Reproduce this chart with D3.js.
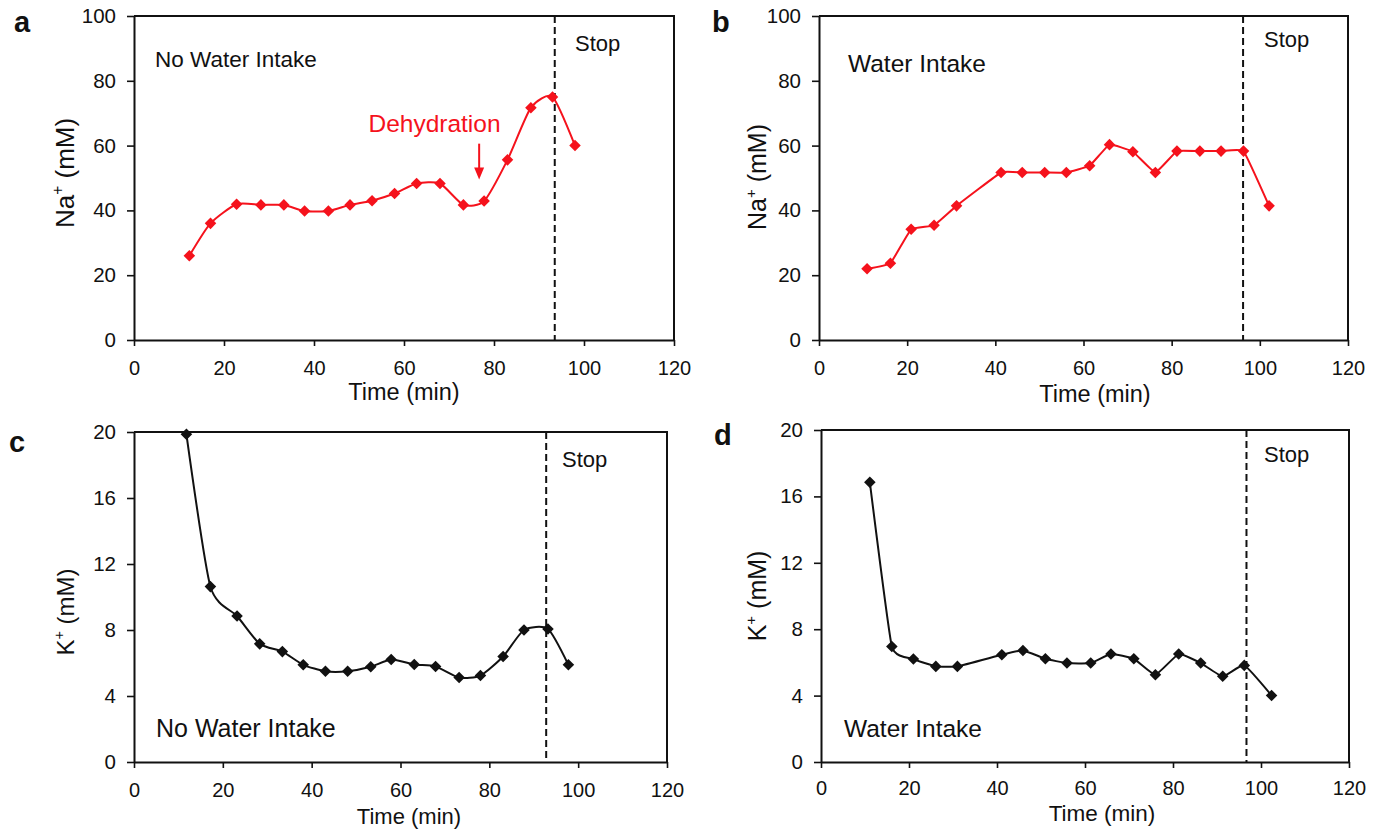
<!DOCTYPE html>
<html>
<head>
<meta charset="utf-8">
<script src="https://cdn.jsdelivr.net/npm/d3@7"></script>
<style>
  html, body { margin: 0; padding: 0; background: #fff; }
  svg { display: block; }
  text { font-family: Arial, 'Liberation Sans', sans-serif; fill: #111; }
</style>
</head>
<body>
<div id="chart"></div>
<script>
// ── Data ──
var timeTicks = [0, 20, 40, 60, 80, 100, 120];
var naTicks = [0, 20, 40, 60, 80, 100];
var kTicks = [0, 4, 8, 12, 16, 20];

// a: Na+, no water intake
var naTimeA = [12.3, 17.0, 22.8, 28.2, 33.3, 37.9, 43.2, 48.0, 52.9, 57.9, 62.8, 68.0, 73.2, 77.8, 83.0, 88.2, 93.0, 98.0];
var naValA  = [26.0, 36.0, 41.9, 41.7, 41.7, 39.8, 39.8, 41.7, 43.0, 45.2, 48.3, 48.3, 41.7, 42.9, 55.6, 71.7, 75.0, 60.0];
// b: Na+, water intake
var naTimeB = [10.9, 16.2, 20.9, 26.1, 31.2, 41.3, 46.1, 51.2, 56.1, 61.4, 65.9, 71.2, 76.3, 81.2, 86.4, 91.2, 96.3, 102.1];
var naValB  = [22.0, 23.7, 34.2, 35.4, 41.4, 51.7, 51.7, 51.7, 51.7, 53.8, 60.3, 58.1, 51.7, 58.3, 58.3, 58.3, 58.3, 41.4];
// c: K+, no water intake
var kTimeC = [11.8, 17.2, 23.2, 28.3, 33.4, 38.1, 43.1, 48.1, 53.3, 57.9, 63.1, 67.9, 73.2, 78.0, 83.1, 87.8, 93.2, 97.8];
var kValC  = [19.86, 10.63, 8.85, 7.16, 6.69, 5.89, 5.50, 5.50, 5.77, 6.21, 5.91, 5.79, 5.12, 5.24, 6.39, 8.00, 8.06, 5.89];
// d: K+, water intake
var kTimeD = [11.1, 16.1, 21.0, 26.1, 31.0, 41.1, 45.9, 51.0, 55.9, 61.3, 65.9, 71.1, 76.0, 81.3, 86.3, 91.3, 96.2, 102.4];
var kValD  = [16.85, 6.96, 6.20, 5.76, 5.76, 6.46, 6.72, 6.22, 5.96, 5.96, 6.50, 6.22, 5.26, 6.50, 5.96, 5.16, 5.82, 4.01];

var stopTimes = { a: 93.5, b: 96.2, c: 92.8, d: 96.7 };
var RED = '#f5121c';
var BLACK = '#111';

// ── Layout per panel ──
var panels = [
  { id: 'a', left: 134, right: 674, top: 16, bottom: 340, yMax: 100, yTicks: naTicks, ion: 'Na',
    times: naTimeA, vals: naValA, color: RED, tension: 0.35, cond: 'No Water Intake', condX: 155, condY: 67, condSize: 22.5,
    stopX: 575, stopY: 51, labelX: 14, labelY: 32, yTitleX: 74, yTitleY: 173, yTitleSize: 26,
    xPad: 15, xTitleX: 404, xTitleY: 400, xTitleSize: 23.5 },
  { id: 'b', left: 819, right: 1348, top: 16, bottom: 340, yMax: 100, yTicks: naTicks, ion: 'Na',
    times: naTimeB, vals: naValB, color: RED, tension: 0.7, cond: 'Water Intake', condX: 848, condY: 72, condSize: 24.5,
    stopX: 1264, stopY: 47, labelX: 712, labelY: 32, yTitleX: 766, yTitleY: 177, yTitleSize: 25,
    xPad: 15, xTitleX: 1095, xTitleY: 402, xTitleSize: 23.5 },
  { id: 'c', left: 134, right: 667, top: 432, bottom: 762, yMax: 20, yTicks: kTicks, ion: 'K',
    times: kTimeC, vals: kValC, color: BLACK, tension: 0.35, cond: 'No Water Intake', condX: 156, condY: 737, condSize: 25,
    stopX: 562, stopY: 467, labelX: 9, labelY: 452, yTitleX: 74, yTitleY: 612, yTitleSize: 24,
    xPad: 15, xTitleX: 409, xTitleY: 824, xTitleSize: 22 },
  { id: 'd', left: 821, right: 1349, top: 430, bottom: 762, yMax: 20, yTicks: kTicks, ion: 'K',
    times: kTimeD, vals: kValD, color: BLACK, tension: 0.6, cond: 'Water Intake', condX: 844, condY: 737, condSize: 24.5,
    stopX: 1264, stopY: 462, labelX: 714, labelY: 445, yTitleX: 766, yTitleY: 596, yTitleSize: 25,
    xPad: 13, xTitleX: 1102, xTitleY: 821, xTitleSize: 22.5 }
];

var svg = d3.select('#chart').append('svg')
  .attr('width', 1385)
  .attr('height', 833);

var diamond = d3.symbol().type(d3.symbolDiamond2).size(85);

panels.forEach(function (p) {
  var x = d3.scaleLinear().domain([0, 120]).range([p.left, p.right]);
  var y = d3.scaleLinear().domain([0, p.yMax]).range([p.bottom, p.top]);
  var g = svg.append('g').attr('class', 'panel-' + p.id);

  // X axis
  var xG = g.append('g')
    .attr('transform', 'translate(0,' + p.bottom + ')')
    .call(d3.axisBottom(x).tickValues(timeTicks).tickSize(6).tickSizeOuter(0).tickPadding(p.xPad));
  xG.selectAll('.tick text').attr('font-size', 20).attr('fill', '#111')
    .attr('font-family', 'Arial, Liberation Sans, sans-serif');

  // Y axis
  var yG = g.append('g')
    .attr('transform', 'translate(' + p.left + ',0)')
    .call(d3.axisLeft(y).tickValues(p.yTicks).tickSize(7).tickSizeOuter(0).tickPadding(11));
  yG.selectAll('.tick text').attr('font-size', 20.5).attr('fill', '#111')
    .attr('font-family', 'Arial, Liberation Sans, sans-serif');

  [xG, yG].forEach(function (ax) {
    ax.select('.domain').attr('stroke', BLACK).attr('stroke-width', 2);
    ax.selectAll('.tick line').attr('stroke', BLACK).attr('stroke-width', 1.6);
  });

  // Top + right frame
  g.append('path')
    .attr('d', 'M' + p.left + ',' + p.top + 'H' + p.right + 'V' + p.bottom)
    .attr('fill', 'none')
    .attr('stroke', BLACK)
    .attr('stroke-width', 2);

  // Stop line
  g.append('line')
    .attr('x1', x(stopTimes[p.id])).attr('x2', x(stopTimes[p.id]))
    .attr('y1', p.top).attr('y2', p.bottom)
    .attr('stroke', BLACK)
    .attr('stroke-width', 2)
    .attr('stroke-dasharray', '7,4');

  g.append('text')
    .attr('x', p.stopX).attr('y', p.stopY)
    .attr('font-size', 22)
    .text('Stop');

  g.append('text')
    .attr('x', p.condX).attr('y', p.condY)
    .attr('font-size', p.condSize)
    .text(p.cond);

  // Series
  var pts = p.times.map(function (t, i) { return [t, p.vals[i]]; });
  var line = d3.line()
    .x(function (d) { return x(d[0]); })
    .y(function (d) { return y(d[1]); })
    .curve(d3.curveCardinal.tension(p.tension));

  g.append('path')
    .datum(pts)
    .attr('d', line)
    .attr('fill', 'none')
    .attr('stroke', p.color)
    .attr('stroke-width', 2);

  g.selectAll('.pt')
    .data(pts)
    .join('path')
    .attr('class', 'pt')
    .attr('transform', function (d) { return 'translate(' + x(d[0]) + ',' + y(d[1]) + ')'; })
    .attr('d', diamond)
    .attr('fill', p.color);

  // Panel letter
  g.append('text')
    .attr('x', p.labelX).attr('y', p.labelY)
    .attr('font-size', 29)
    .attr('font-weight', 'bold')
    .text(p.id);

  // Axis titles
  g.append('text')
    .attr('x', p.xTitleX).attr('y', p.xTitleY)
    .attr('text-anchor', 'middle')
    .attr('font-size', p.xTitleSize)
    .text('Time (min)');

  var yt = g.append('text')
    .attr('transform', 'translate(' + p.yTitleX + ',' + p.yTitleY + ') rotate(-90)')
    .attr('text-anchor', 'middle')
    .attr('font-size', p.yTitleSize);
  yt.append('tspan').text(p.ion);
  yt.append('tspan').attr('font-size', p.yTitleSize * 0.6).attr('dy', -p.yTitleSize * 0.42).text('+');
  yt.append('tspan').attr('dy', p.yTitleSize * 0.42).text(' (mM)');

  // Dehydration annotation (panel a only)
  if (p.id === 'a') {
    var ax0 = x(76.7);
    var yTop = y(60.6), yTip = y(49.5);
    g.append('text')
      .attr('x', x(52.1)).attr('y', y(64.3))
      .attr('font-size', 24.5)
      .style('fill', RED)
      .text('Dehydration');
    g.append('line')
      .attr('x1', ax0).attr('x2', ax0)
      .attr('y1', yTop).attr('y2', yTip - 10)
      .attr('stroke', RED)
      .attr('stroke-width', 2);
    g.append('path')
      .attr('d', 'M' + (ax0 - 5) + ',' + (yTip - 12) + 'L' + (ax0 + 5) + ',' + (yTip - 12) + 'L' + ax0 + ',' + yTip + 'Z')
      .attr('fill', RED);
  }
});
</script>
</body>
</html>
